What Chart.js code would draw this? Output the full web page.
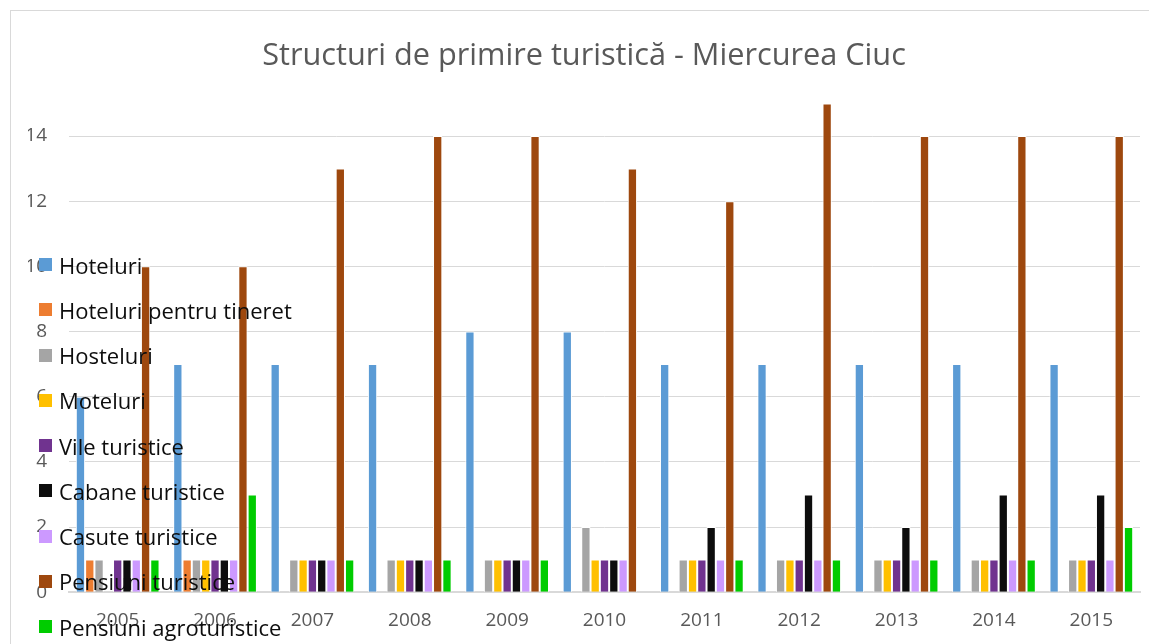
<!DOCTYPE html>
<html>
<head>
<meta charset="utf-8">
<script src="https://cdn.jsdelivr.net/npm/chart.js@4"></script>
<style>
    html, body { margin: 0; padding: 0; background: #fff; }
    .wrap { position: relative; width: 1149px; height: 644px; overflow: hidden; }
    .frame { position: absolute; left: 10px; top: 10px; width: 1160px; height: 660px; border: 1px solid #d9d9d9; }
    .wrap canvas { position: absolute; left: 0; top: 0; }
    .legend { position: absolute; left: 39px; top: 242px; font-family: "Open Sans", sans-serif; font-size: 22px; color: #0d0d0d; }
    .legend .item { display: flex; align-items: center; height: 45.25px; white-space: nowrap; }
    .legend .box { width: 13px; height: 13px; margin-right: 7px; }
</style>
</head>
<body>
<div class="wrap">
    <div class="frame"></div>
    <canvas id="chart" width="1149" height="644"></canvas>
    <div class="legend" id="legend"></div>
</div>
<script>
const years = ['2005', '2006', '2007', '2008', '2009', '2010', '2011', '2012', '2013', '2014', '2015']

const hoteluri = [6, 7, 7, 7, 8, 8, 7, 7, 7, 7, 7]
const hoteluriTineret = [1, 1, 0, 0, 0, 0, 0, 0, 0, 0, 0]
const hosteluri = [1, 1, 1, 1, 1, 2, 1, 1, 1, 1, 1]
const moteluri = [0, 1, 1, 1, 1, 1, 1, 1, 1, 1, 1]
const vile = [1, 1, 1, 1, 1, 1, 1, 1, 1, 1, 1]
const cabane = [1, 1, 1, 1, 1, 1, 2, 3, 2, 3, 3]
const casute = [1, 1, 1, 1, 1, 1, 1, 1, 1, 1, 1]
const pensiuni = [10, 10, 13, 14, 14, 13, 12, 15, 14, 14, 14]
const agro = [1, 3, 1, 1, 1, 0, 1, 1, 1, 1, 2]

const yTicks = [0, 2, 4, 6, 8, 10, 12, 14]

const series = [
    { label: 'Hoteluri', data: hoteluri, color: '#5b9bd5' },
    { label: 'Hoteluri pentru tineret', data: hoteluriTineret, color: '#ed7d31' },
    { label: 'Hosteluri', data: hosteluri, color: '#a5a5a5' },
    { label: 'Moteluri', data: moteluri, color: '#ffc000' },
    { label: 'Vile turistice', data: vile, color: '#70338f' },
    { label: 'Cabane turistice', data: cabane, color: '#0d0d0d' },
    { label: 'Casute turistice', data: casute, color: '#cc99ff' },
    { label: 'Pensiuni turistice', data: pensiuni, color: '#9e480e' },
    { label: 'Pensiuni agroturistice', data: agro, color: '#00cc00' }
]

const font = '"Open Sans", sans-serif'

new Chart(document.querySelector('#chart'), {
    type: 'bar',
    data: {
        labels: years,
        datasets: series.map(s => ({
            label: s.label,
            data: s.data,
            backgroundColor: s.color,
            borderColor: '#ffffff',
            borderWidth: 1,
            barPercentage: 1,
            categoryPercentage: 0.86
        }))
    },
    options: {
        responsive: false,
        animation: false,
        layout: { padding: { left: 28, right: 9, top: 10, bottom: -5 } },
        plugins: {
            legend: { display: false },
            tooltip: { enabled: false },
            title: {
                display: true,
                text: 'Structuri de primire turistică - Miercurea Ciuc',
                color: '#595959',
                font: { family: font, size: 30.7, weight: 'normal' },
                padding: { top: 28, bottom: -4 }
            }
        },
        scales: {
            x: {
                grid: { display: false, drawTicks: false },
                border: { display: true, color: '#d9d9d9', width: 2 },
                ticks: { color: '#595959', font: { family: font, size: 19 }, padding: 17 }
            },
            y: {
                min: 0,
                max: 16,
                grid: { color: '#d9d9d9', lineWidth: 1, drawTicks: false },
                border: { display: false },
                afterBuildTicks: axis => {
                    axis.ticks = yTicks.map(v => ({ value: v }))
                },
                afterFit: axis => {
                    axis.width = 41
                },
                ticks: { color: '#595959', font: { family: font, size: 19 }, padding: 22 }
            }
        }
    }
})

const legend = document.querySelector('#legend')
for (let s of series) {
    let item = document.createElement('div')
    item.className = 'item'
    item.innerHTML = '<span class="box" style="background:' + s.color + '"></span><span>' + s.label + '</span>'
    legend.append(item)
}
</script>
</body>
</html>
